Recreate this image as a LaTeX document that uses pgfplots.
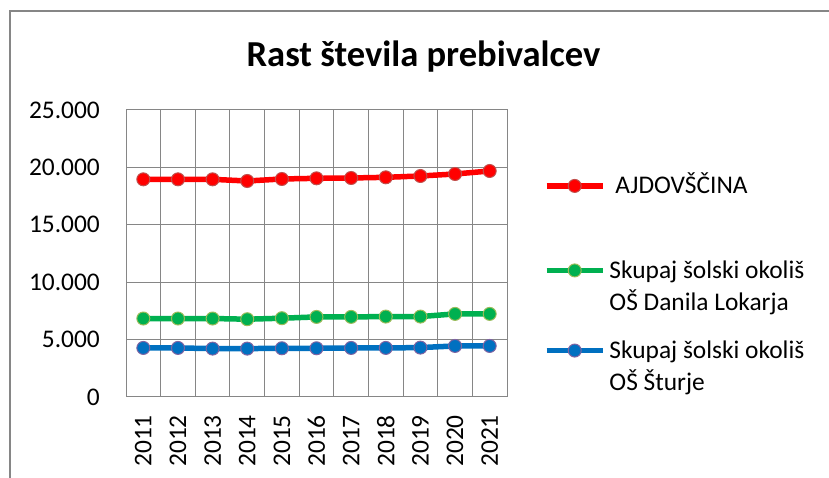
\documentclass[border=0pt]{standalone}
\usepackage{fontspec}
\setmainfont{Carlito}
\usepackage{pgfplots}
\pgfplotsset{compat=1.18}
\definecolor{gridgray}{HTML}{868686}
\definecolor{lred}{HTML}{FF0000}
\definecolor{mred}{HTML}{C0504D}
\definecolor{lgreen}{HTML}{00B050}
\definecolor{mgreen}{HTML}{9BBB59}
\definecolor{lblue}{HTML}{0070C0}
\definecolor{mblue}{HTML}{8064A2}
\begin{document}
\begin{tikzpicture}[x=1bp,y=1bp]
\path[use as bounding box] (0,0) rectangle (829,478);
\draw[gridgray, line width=1.2bp] (10,0) -- (10,467) -- (829,467);
\node[font=\fontsize{36.7}{40}\selectfont\bfseries, anchor=base] at (423.5,411) {Rast števila prebivalcev};
\begin{axis}[
  at={(126bp,81bp)}, anchor=south west,
  scale only axis, width=381bp, height=287bp,
  xmin=-0.5, xmax=10.5, ymin=0, ymax=25000,
  scaled y ticks=false,
  clip=false,
  axis line style={gridgray, line width=1bp},
  grid style={gridgray, line width=1bp},
  ytick={0,5000,10000,15000,20000,25000},
  yticklabels={0,5.000,10.000,15.000,20.000,25.000},
  ymajorgrids,
  xtick={0,...,10},
  xticklabels={2011,2012,2013,2014,2015,2016,2017,2018,2019,2020,2021},
  minor xtick={-0.5,0.5,...,10.5},
  xminorgrids,
  major tick length=0pt, minor tick length=0pt,
  tick label style={font=\fontsize{25.5}{30}\selectfont},
  yticklabel style={anchor=east, inner sep=0pt},
  yticklabel shift=26bp,
  xticklabel style={rotate=90, anchor=east, inner sep=0pt},
  xticklabel shift=18bp,
  legend image code/.code={\draw[#1, mark repeat=2, mark phase=2, yshift=8bp] plot coordinates {(0bp,0bp) (28bp,0bp) (56bp,0bp)};},
  legend cell align=left,
  legend style={at={(axis description cs:1.097,0.78)}, anchor=north west,
    draw=none, fill=none, inner sep=0pt, outer sep=0pt,
    font=\fontsize{25.5}{32}\selectfont,
    nodes={inner sep=0pt},
    cells={anchor=base west},
    row sep=29bp, /tikz/column sep=4bp},
]
\addplot[lred, line width=5.5bp, mark=*, mark size=6.5bp, mark options={fill=lred, draw=mred, line width=1bp}]
  coordinates {(0,18960) (1,18960) (2,18960) (3,18815) (4,18990) (5,19048) (6,19077) (7,19135) (8,19251) (9,19425) (10,19686)};
\addlegendentry{\hspace*{6bp}AJDOVŠČINA}
\addplot[lgreen, line width=5.5bp, mark=*, mark size=6.5bp, mark options={fill=lgreen, draw=mgreen, line width=1bp}, legend image post style={yshift=32bp}]
  coordinates {(0,6836) (1,6836) (2,6836) (3,6775) (4,6862) (5,6976) (6,6976) (7,7005) (8,7005) (9,7238) (10,7238)};
\addlegendentry{\vbox{\baselineskip=32bp\hbox{\rule{0pt}{54bp}Skupaj šolski okoliš}\hbox{OŠ Danila Lokarja}}}
\addplot[lblue, line width=5.5bp, mark=*, mark size=6.5bp, mark options={fill=lblue, draw=mblue, line width=1bp}, legend image post style={yshift=32bp}]
  coordinates {(0,4273) (1,4273) (2,4215) (3,4215) (4,4244) (5,4244) (6,4273) (7,4273) (8,4302) (9,4447) (10,4447)};
\addlegendentry{\vbox{\baselineskip=32bp\hbox{Skupaj šolski okoliš}\hbox{OŠ Šturje}}}
\end{axis}
\end{tikzpicture}
\end{document}
